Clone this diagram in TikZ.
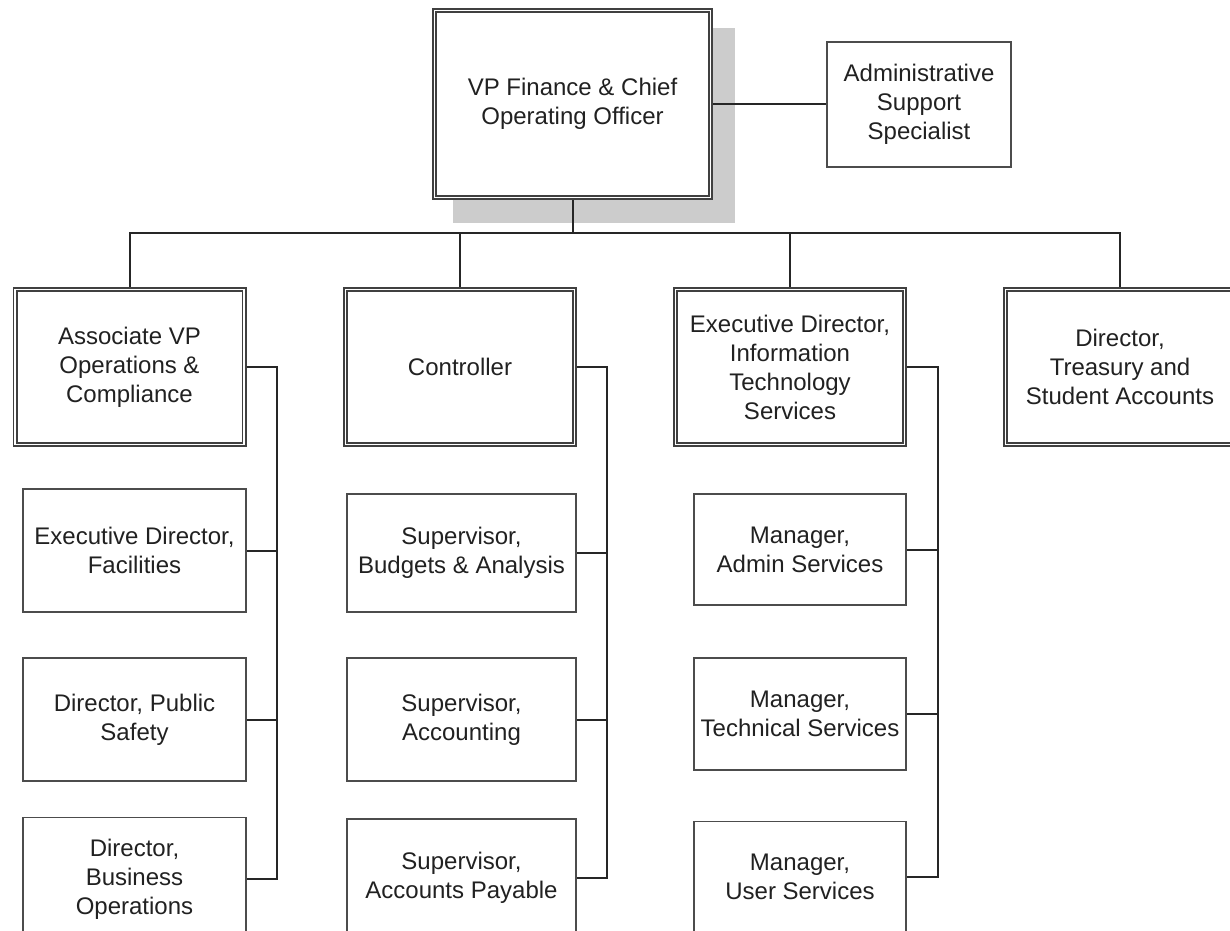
\documentclass[tikz,border=0pt]{standalone}
\usepackage{fontspec}
\setmainfont{Liberation Sans}

\definecolor{shadowgray}{gray}{0.80}
\definecolor{ink}{gray}{0.13}

\tikzset{
    box/.style={draw=black!70, line width=1.8pt, fill=white, align=center,
        inner sep=2pt, text=ink, font=\fontsize{24}{29}\selectfont},
    headbox/.style={box, draw=black!75, line width=1.6pt, double=white,
        double distance=1.8pt, outer sep=2.5pt},
    kid/.style={box, minimum height=122pt},
    wire/.style={draw=black!85, line width=2pt},
}

\begin{document}
\begin{tikzpicture}[x=1pt, y=-1pt]
    \useasboundingbox (0,0) rectangle (1230,930);
    \clip (0,0) rectangle (1230,930);

    % top of the chart
    \fill[shadowgray] (453,28) rectangle (735,223);
    \node[headbox, minimum width=276pt, minimum height=187pt] (vp) at (572.5,104)
        {VP Finance \& Chief\\Operating Officer};
    \node[box, minimum width=184pt, minimum height=125pt] (admin) at (919,104.5)
        {Administrative\\Support\\Specialist};
    \draw[wire] (vp.east) -- (vp.east -| admin.west);

    % second row
    \node[headbox, minimum width=229pt, minimum height=155pt] (assoc) at (129.5,367)
        {Associate VP\\Operations \&\\Compliance};
    \node[headbox, minimum width=229pt, minimum height=155pt] (ctrl) at (460,367)
        {Controller};
    \node[headbox, minimum width=229pt, minimum height=155pt] (itsvc) at (790,367)
        {Executive Director,\\Information\\Technology\\Services};
    \node[headbox, minimum width=229pt, minimum height=155pt] (treas) at (1120,367)
        {Director,\\Treasury and\\Student Accounts};

    \foreach \n in {assoc,ctrl,itsvc,treas}
        \draw[wire] (vp.south) -- ++(0,33) -| (\n.north);

    % under the associate VP
    \node[kid, minimum width=223pt, minimum height=123pt] (facil) at (134.5,550.5)
        {Executive Director,\\Facilities};
    \node[kid, minimum width=223pt, minimum height=123pt] (safety) at (134.5,719.5)
        {Director, Public\\Safety};
    \node[kid, minimum width=223pt, minimum height=123pt] (busops) at (134.5,879)
        {Director,\\Business\\Operations};

    % under the controller
    \node[kid, minimum width=229pt, minimum height=118pt] (budget) at (461.5,553)
        {Supervisor,\\Budgets \& Analysis};
    \node[kid, minimum width=229pt, minimum height=123pt] (acct) at (461.5,719.5)
        {Supervisor,\\Accounting};
    \node[kid, minimum width=229pt, minimum height=118pt] (payable) at (461.5,878)
        {Supervisor,\\Accounts Payable};

    % under IT
    \node[kid, minimum width=212pt, minimum height=111pt] (adminsvc) at (800,549.5)
        {Manager,\\Admin Services};
    \node[kid, minimum width=212pt, minimum height=112pt] (techsvc) at (800,714)
        {Manager,\\Technical Services};
    \node[kid, minimum width=212pt, minimum height=111pt] (usersvc) at (800,877)
        {Manager,\\User Services};

    \foreach \k in {facil,safety,busops}
        \draw[wire] (assoc.east) -- ++(30,0) |- (\k.east);
    \foreach \k in {budget,acct,payable}
        \draw[wire] (ctrl.east) -- ++(30,0) |- (\k.east);
    \foreach \k in {adminsvc,techsvc,usersvc}
        \draw[wire] (itsvc.east) -- ++(31,0) |- (\k.east);
\end{tikzpicture}
\end{document}
